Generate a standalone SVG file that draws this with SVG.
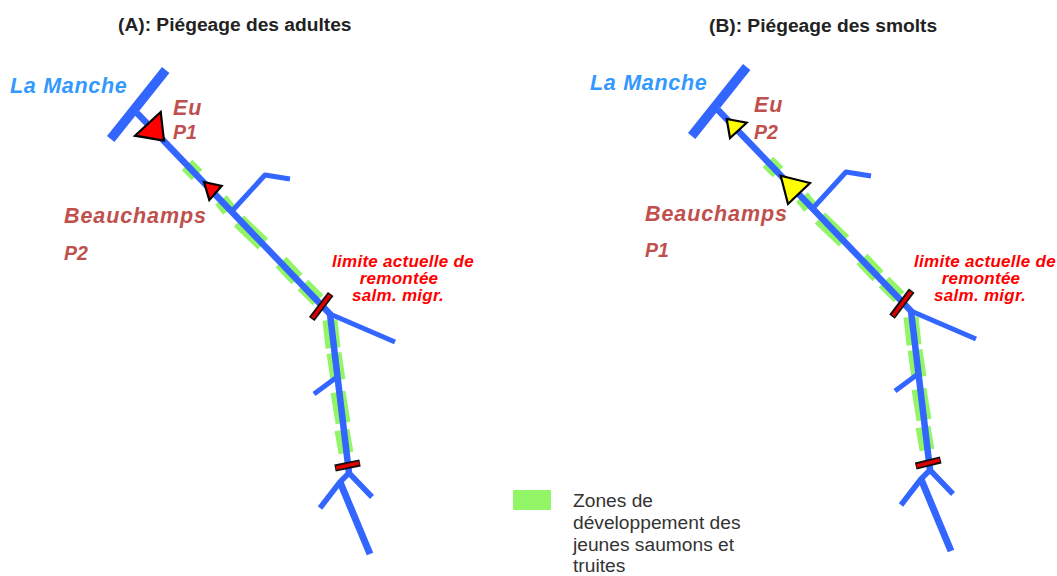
<svg xmlns="http://www.w3.org/2000/svg" xmlns:xlink="http://www.w3.org/1999/xlink" width="1057" height="576" viewBox="0 0 1057 576">
<style>
text{font-family:"Liberation Sans",Arial,sans-serif}
.title{font-size:19.200px;font-weight:bold;fill:#222}
.sea{font-size:21.500px;font-weight:bold;font-style:italic;fill:#3399ff;letter-spacing:0.700px}
.st{font-size:21.500px;font-weight:bold;font-style:italic;fill:#c0504d;letter-spacing:0.900px}
.tr{font-size:19.500px;font-weight:bold;font-style:italic;fill:#c0504d}
.lim{font-size:17px;font-weight:bold;font-style:italic;fill:#ff0000;text-anchor:middle;letter-spacing:0.270px}
.leg{font-size:19.200px;fill:#333}
.g{fill:none;stroke:#92f566;stroke-width:15}
.b{fill:none;stroke:#3366ff;stroke-linejoin:round}
.bk{stroke:#111;stroke-width:7}
.rd{stroke:#e00000;stroke-width:3.500}
.tri{stroke:#000;stroke-width:2.200;stroke-linejoin:miter}
</style>
<defs>
<g id="zones">
<path class="g" d="M187 165L197 175M221 200L229 210M239 221L263 244M281 262L297 279M303 285L318 300M330 320L333 348M334 353L338 380M338 392L343 423M342 430L346 453"/>
</g>
<g id="river">
<path class="b" stroke-width="9.500" d="M165.700 70L110.700 139"/>
<path class="b" stroke-width="6.500" d="M137 113L330 314L349 473"/>
<path class="b" stroke-width="5" d="M233 210L265 175L290 179M330 314L395 342M337 377L314 394"/>
<path class="b" stroke-width="5.500" d="M349 473L340 482L320 508M349 473L372 497"/>
<path class="b" stroke-width="7" d="M340 482L370 554"/>
</g>
</defs>
<g id="title-a"><text class="title" x="118" y="31">(A): Piégeage des adultes</text></g>
<g id="title-b"><text class="title" x="709" y="32">(B): Piégeage des smolts</text></g>
<g id="connectors">
<use xlink:href="#zones"/><use xlink:href="#river"/>
<use xlink:href="#zones" transform="translate(581 -3)"/><use xlink:href="#river" transform="translate(581 -3)"/>
</g>
<g id="panel-a">
<g id="barrier-a1"><path class="bk" d="M330.700 294L311.700 319"/><path class="rd" d="M330 295L312.500 318"/></g>
<g id="barrier-a2"><path class="bk" d="M335 468L360 463"/><path class="rd" d="M336 468L359 463"/></g>
<polygon id="trap-a1" class="tri" fill="#ff0000" points="160.700,112 135,135.700 164,140.700"/>
<polygon id="trap-a2" class="tri" fill="#ff0000" points="204,182 221.700,186 209.300,200"/>
<text class="sea" x="10" y="93">La Manche</text>
<text class="st" x="173" y="115">Eu</text>
<text class="tr" x="173" y="139">P1</text>
<text class="st" x="64" y="223">Beauchamps</text>
<text class="tr" x="64" y="260">P2</text>
<g id="limit-a"><text class="lim" x="403" y="267">limite actuelle de</text><text class="lim" x="399" y="284">remontée</text><text class="lim" x="398" y="301">salm. migr.</text></g>
</g>
<g id="panel-b">
<g id="barrier-b1"><path class="bk" d="M911.700 290.700L892 316.700"/><path class="rd" d="M911 291.700L893 315.700"/></g>
<g id="barrier-b2"><path class="bk" d="M915.700 466L940.700 460"/><path class="rd" d="M916.700 466L939.700 460"/></g>
<polygon id="trap-b1" class="tri" fill="#ffff00" points="726.700,119 746.700,122.700 730,138"/>
<polygon id="trap-b2" class="tri" fill="#ffff00" points="780.700,175.700 810,183 788,204"/>
<text class="sea" x="590" y="90">La Manche</text>
<text class="st" x="754" y="112">Eu</text>
<text class="tr" x="754" y="139">P2</text>
<text class="st" x="645" y="221">Beauchamps</text>
<text class="tr" x="645" y="257">P1</text>
<g id="limit-b"><text class="lim" x="985" y="267">limite actuelle de</text><text class="lim" x="981" y="284">remontée</text><text class="lim" x="980" y="301">salm. migr.</text></g>
</g>
<g id="legend">
<rect x="513" y="490" width="38" height="20" fill="#92f566"/>
<text class="leg" x="573" y="507">Zones de</text>
<text class="leg" x="573" y="529">développement des</text>
<text class="leg" x="573" y="550.500">jeunes saumons et</text>
<text class="leg" x="573" y="572">truites</text>
</g>
</svg>
